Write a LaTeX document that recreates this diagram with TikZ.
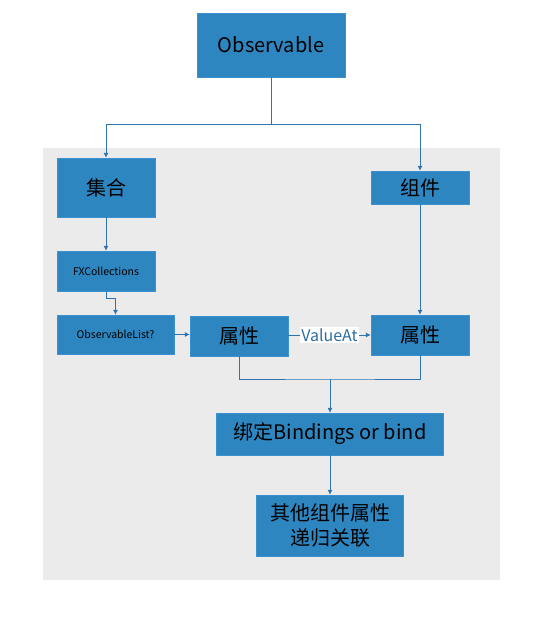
\documentclass[tikz,border=0pt]{standalone}
\usepackage{fontspec}
\setmainfont{Noto Sans CJK SC}
\usepackage{xcolor}
\usetikzlibrary{arrows.meta}

\definecolor{boxblue}{HTML}{2E86C1}
\definecolor{boxedge}{HTML}{3C91D2}
\definecolor{linkblue}{HTML}{2E75B0}
\definecolor{labelblue}{HTML}{2F6E9E}
\definecolor{panelgray}{HTML}{EBEBEB}

\begin{document}
\begin{tikzpicture}[x=1pt, y=-1pt,
    box/.style={draw=boxedge, fill=boxblue, text=black, inner sep=0pt, align=center},
    link/.style={draw=linkblue, line width=0.8pt},
    arr/.style={link, -{Latex[length=5pt,width=5pt]}}]
        \useasboundingbox (0,0) rectangle (540,621);
        \fill[panelgray] (43,148) rectangle (500,580);

        \node[box, minimum width=148pt, minimum height=64pt, font=\fontsize{20}{22}\selectfont] (obs) at (271,45) {Observable};
        \node[box, minimum width=98pt, minimum height=59pt, font=\fontsize{20}{22}\selectfont] (jihe) at (106,187.5) {集合};
        \node[box, minimum width=98pt, minimum height=33pt, font=\fontsize{20}{22}\selectfont] (zujian) at (420,187.5) {组件};
        \node[box, minimum width=98pt, minimum height=40pt, font=\fontsize{10.5}{12}\selectfont] (fx) at (106,271) {FXCollections};
        \node[box, minimum width=117pt, minimum height=39pt, font=\fontsize{10.5}{12}\selectfont] (olist) at (115.5,334.5) {ObservableList?};
        \node[box, minimum width=98pt, minimum height=40pt, font=\fontsize{20}{22}\selectfont] (attrA) at (239,336) {属性};
        \node[box, minimum width=98pt, minimum height=40pt, font=\fontsize{20}{22}\selectfont] (attrB) at (420,335) {属性};
        \node[box, minimum width=227pt, minimum height=42pt, font=\fontsize{20}{22}\selectfont] (bind) at (330,434) {绑定Bindings or bind};
        \node[box, minimum width=147pt, minimum height=61pt, font=\fontsize{20}{25}\selectfont] (other) at (330,525.5) {其他组件属性\\递归关联};

        \coordinate (split) at (271,124);
        \coordinate (join) at (330,379);

        \draw[link] (obs.south) -- (split);
        \draw[arr] (split) -| (jihe.north);
        \draw[arr] (split) -| (zujian.north);
        \draw[arr] (jihe.south) -- (fx.north);
        \draw[arr] (fx.south) -- ++(0,7) -| (olist.north);
        \draw[arr] (olist.east) -- (attrA.west |- olist.east);
        \draw[arr] (attrA.east |- attrB.west) -- node[fill=white, text=labelblue, inner sep=1.5pt, font=\fontsize{16}{18}\selectfont] (valueat) {ValueAt} (attrB.west);
        \draw[arr] (zujian.south) -- (attrB.north);
        \draw[link] (attrA.south) |- (join) -| (attrB.south);
        \draw[arr] (join) -- (bind.north);
        \draw[arr] (bind.south) -- (other.north);
\end{tikzpicture}
\end{document}
